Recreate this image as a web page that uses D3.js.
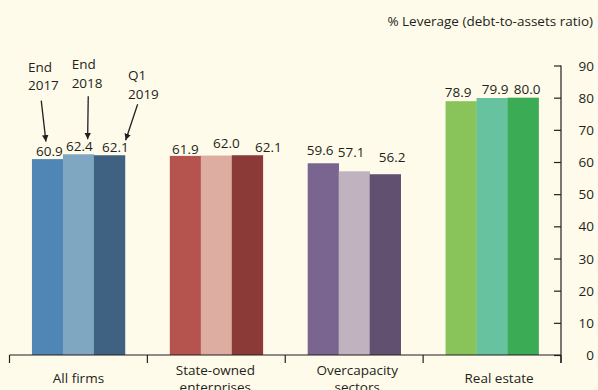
<!DOCTYPE html>
<html>
<head>
<meta charset="utf-8">
<script src="https://cdn.jsdelivr.net/npm/d3@7"></script>
<style>
  html, body { margin: 0; padding: 0; background: #fffbea; }
  svg { display: block; }
  text { font-family: "Open Sans", "Noto Sans", sans-serif; fill: #231f20; }
</style>
</head>
<body>
<svg id="chart" width="598" height="390"></svg>
<script>
// Corporate leverage by sector, debt-to-assets ratio (%)
const categories = [["All firms"], ["State-owned", "enterprises"], ["Overcapacity", "sectors"], ["Real estate"]];
const periods = ["End 2017", "End 2018", "Q1 2019"];
const endSeries2017 = [60.9, 61.9, 59.6, 78.9];
const endSeries2018 = [62.4, 62.0, 57.1, 79.9];
const q1Series2019 = [62.1, 62.1, 56.2, 80.0];
const yTicks = [0, 10, 20, 30, 40, 50, 60, 70, 80, 90];
const axisTitle = "% Leverage (debt-to-assets ratio)";

// One shade per period, one hue per category
const palette = [
  ["#4f86b5", "#7fa7c2", "#3f6283"],
  ["#b5534f", "#ddada2", "#8b3a38"],
  ["#7a6490", "#c0b3bf", "#625070"],
  ["#88c45a", "#67c39f", "#3bab55"]
];

// Value label nudges [dx, lift above bar top]
const labelNudge = [
  [[2, 3], [1, 3], [6, 3]],
  [[0, 2], [10, 8], [21, 3]],
  [[-3, 8], [-3, 14], [7, 12]],
  [[-3, 4], [3, 4], [4, 4]]
];
const catLabelDx = [0, -1, 3, 7];

const seriesValues = [endSeries2017, endSeries2018, q1Series2019];
const rows = categories.map((c, i) => ({
  key: c.join(" "), lines: c, idx: i,
  values: seriesValues.map((s, j) => ({ period: periods[j], value: s[i], j }))
}));

const svg = d3.select("#chart");
const x0 = d3.scaleBand().domain(rows.map(r => r.key)).range([9.5, 561]).padding(0);
const groupW = 93;
const x1 = d3.scaleBand().domain(periods)
  .range([(x0.bandwidth() - groupW) / 2, (x0.bandwidth() + groupW) / 2]).padding(0);
const y = d3.scaleLinear().domain([0, 90]).range([355, 65.5]);

// Bars
const groups = svg.append("g").selectAll("g").data(rows).join("g")
  .attr("transform", d => `translate(${x0(d.key)},0)`);

groups.selectAll("rect").data(d => d.values.map(v => ({ ...v, ci: d.idx }))).join("rect")
  .attr("x", d => x1(d.period))
  .attr("width", x1.bandwidth() + 0.3)
  .attr("y", d => y(d.value))
  .attr("height", d => y(0) - y(d.value))
  .attr("fill", d => palette[d.ci][d.j]);

groups.selectAll("text.val").data(d => d.values.map(v => ({ ...v, ci: d.idx }))).join("text")
  .attr("class", "val")
  .attr("x", d => x1(d.period) + x1.bandwidth() / 2 + labelNudge[d.ci][d.j][0])
  .attr("y", d => y(d.value) - labelNudge[d.ci][d.j][1])
  .attr("text-anchor", "middle")
  .attr("font-size", 13.5)
  .text(d => d.value.toFixed(1));

// Category axis along the bottom
const xAxis = svg.append("g").attr("transform", `translate(0,${y(0)})`);
xAxis.append("line").attr("x1", x0.range()[0]).attr("x2", x0.range()[1])
  .attr("stroke", "#231f20").attr("stroke-width", 1.2);
const edges = rows.map(r => x0(r.key)).concat([x0.range()[1]]);
xAxis.selectAll("line.tk").data(edges).join("line").attr("class", "tk")
  .attr("x1", d => d).attr("x2", d => d).attr("y1", 0).attr("y2", 8)
  .attr("stroke", "#231f20").attr("stroke-width", 1.2);

const catText = svg.append("g").selectAll("text").data(rows).join("text")
  .attr("text-anchor", "middle")
  .attr("font-size", 13.5)
  .attr("transform", d => `translate(${x0(d.key) + x0.bandwidth() / 2 + catLabelDx[d.idx]},${d.lines.length > 1 ? 374.5 : 383})`);
catText.selectAll("tspan").data(d => d.lines).join("tspan")
  .attr("x", 0).attr("dy", (d, i) => i === 0 ? 0 : 17.5).text(d => d);

// Value axis on the right
const yAxis = svg.append("g").attr("transform", `translate(561,0)`)
  .call(d3.axisLeft(y).tickValues(yTicks).tickSize(7).tickFormat(""));
yAxis.select(".domain").remove();
yAxis.selectAll(".tick line").attr("stroke", "#231f20").attr("stroke-width", 1.2);
yAxis.append("line").attr("x1", 0).attr("x2", 0).attr("y1", y(90)).attr("y2", y(0) + 8)
  .attr("stroke", "#231f20").attr("stroke-width", 1.2);
svg.append("g").selectAll("text").data(yTicks).join("text")
  .attr("x", 594).attr("y", d => y(d) + 5)
  .attr("text-anchor", "end").attr("font-size", 13.5)
  .text(d => d);

svg.append("text").attr("x", 593).attr("y", 26).attr("text-anchor", "end")
  .attr("font-size", 13.5).text(axisTitle);

// Period call-outs pointing at the All firms bars
const callouts = [
  { j: 0, lines: ["End", "2017"], tx: -19.5, ty: -87.5, from: [-6.2, -58.5], to: [-1.5, -17.5] },
  { j: 1, lines: ["End", "2018"], tx: -6.8, ty: -85, from: [9.8, -58], to: [9.2, -15] },
  { j: 2, lines: ["Q1", "2019"], tx: 18.5, ty: -75, from: [28.2, -51], to: [16.2, -15] }
];
svg.append("defs").append("marker").attr("id", "head")
  .attr("viewBox", "0 0 10 10").attr("refX", 10).attr("refY", 5)
  .attr("markerWidth", 6.5).attr("markerHeight", 6.5).attr("markerUnits", "userSpaceOnUse")
  .attr("orient", "auto")
  .append("path").attr("d", "M0,0 L10,5 L0,10 Z").attr("fill", "#231f20");

const firm = rows[0];
const cg = svg.append("g").selectAll("g").data(callouts).join("g")
  .attr("transform", d => {
    const cx = x0(firm.key) + x1(periods[d.j]) + x1.bandwidth() / 2;
    const cy = y(firm.values[d.j].value);
    return `translate(${cx},${cy})`;
  });
cg.append("line")
  .attr("x1", d => d.from[0]).attr("y1", d => d.from[1])
  .attr("x2", d => d.to[0]).attr("y2", d => d.to[1])
  .attr("stroke", "#231f20").attr("stroke-width", 1.3)
  .attr("marker-end", "url(#head)");
const ct = cg.append("text").attr("font-size", 13.5)
  .attr("transform", d => `translate(${d.tx},${d.ty})`);
ct.selectAll("tspan").data(d => d.lines).join("tspan")
  .attr("x", 0).attr("dy", (d, i) => i === 0 ? 0 : 18.5).text(d => d);
</script>
</body>
</html>
